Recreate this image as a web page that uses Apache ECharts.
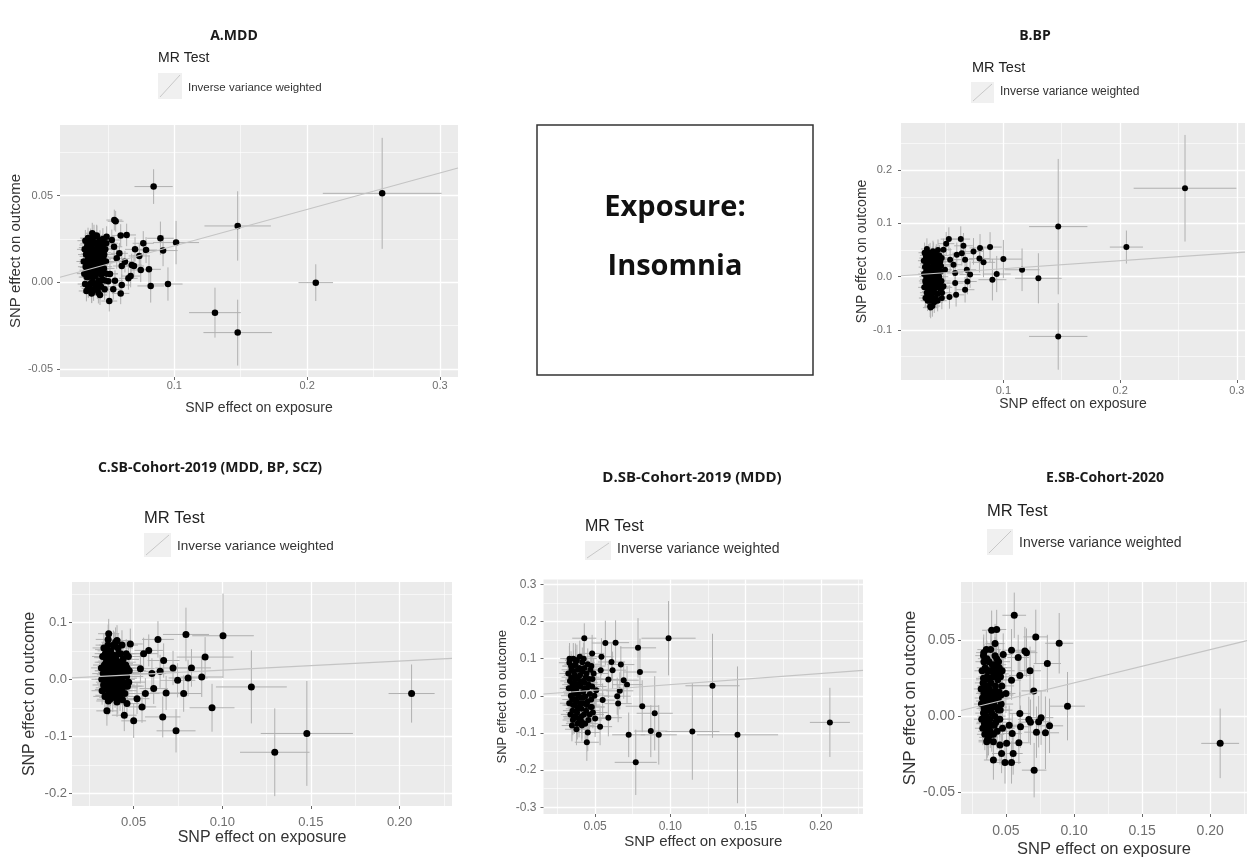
<!DOCTYPE html>
<html>
<head>
<meta charset="utf-8">
<script src="https://cdn.jsdelivr.net/npm/echarts@6/dist/echarts.min.js"></script>
<style>
  html, body { margin: 0; padding: 0; background: #fff; }
  #chart { width: 1249px; height: 860px; }
</style>
</head>
<body>
<div id="chart"></div>
<script>
// ---- data: each SNP is [beta exposure, beta outcome, se exposure, se outcome] ----
var panelTitles = ['A.MDD', 'B.BP', 'C.SB-Cohort-2019 (MDD, BP, SCZ)', 'D.SB-Cohort-2019 (MDD)', 'E.SB-Cohort-2020'];
var methodName = 'Inverse variance weighted';
var ivwSlopes = [0.21, 0.15, 0.16, 0.30, 0.22];

var mddSnps = [
  [0.0844, 0.0552, 0.0144, 0.0100], [0.2565, 0.0513, 0.0447, 0.0320], [0.1477, 0.0325, 0.0250, 0.0200],
  [0.0895, 0.0254, 0.0100, 0.0096], [0.1013, 0.0229, 0.0173, 0.0125], [0.0915, 0.0183, 0.0110, 0.0090],
  [0.2065, -0.0002, 0.0130, 0.0106], [0.1306, -0.0175, 0.0195, 0.0144], [0.1477, -0.0290, 0.0258, 0.0190],
  [0.0952, -0.0010, 0.0110, 0.0096], [0.0822, -0.0021, 0.0100, 0.0096], [0.0809, 0.0075, 0.0090, 0.0080],
  [0.0766, 0.0225, 0.0080, 0.0070], [0.0787, 0.0186, 0.0085, 0.0075], [0.0548, 0.0359, 0.0060, 0.0060],
  [0.0558, 0.0352, 0.0060, 0.0060], [0.0382, 0.0283, 0.0050, 0.0060], [0.0641, 0.0273, 0.0070, 0.0065],
  [0.0596, 0.0270, 0.0065, 0.0065], [0.0704, 0.0190, 0.0075, 0.0070], [0.0736, 0.0152, 0.0080, 0.0070],
  [0.0679, 0.0100, 0.0075, 0.0065], [0.0696, 0.0094, 0.0075, 0.0065], [0.0747, 0.0071, 0.0080, 0.0070],
  [0.0671, 0.0036, 0.0070, 0.0065], [0.0654, 0.0023, 0.0070, 0.0065], [0.0510, -0.0108, 0.0060, 0.0060],
  [0.0604, -0.0016, 0.0065, 0.0062], [0.0596, -0.0064, 0.0065, 0.0062], [0.0440, -0.0073, 0.0055, 0.0058],
  [0.0352, -0.0035, 0.0050, 0.0055], [0.0377, -0.0064, 0.0050, 0.0055], [0.0540, -0.0040, 0.0060, 0.0060],
  [0.0502, 0.0006, 0.0060, 0.0058], [0.0604, 0.0094, 0.0065, 0.0062], [0.0566, 0.0138, 0.0062, 0.0060],
  [0.0546, 0.0205, 0.0062, 0.0060], [0.0529, 0.0244, 0.0060, 0.0060], [0.0490, 0.0263, 0.0058, 0.0060],
  [0.0586, 0.0167, 0.0064, 0.0060], [0.0628, 0.0119, 0.0066, 0.0062], [0.0515, 0.0048, 0.0060, 0.0058],
  [0.0553, 0.0009, 0.0062, 0.0060],
  [0.0345, 0.0215, 0.0060, 0.0060], [0.0352, 0.0150, 0.0065, 0.0055], [0.0358, 0.0085, 0.0070, 0.0058],
  [0.0348, 0.0030, 0.0060, 0.0062], [0.0362, -0.0020, 0.0065, 0.0056], [0.0370, 0.0250, 0.0072, 0.0060],
  [0.0375, 0.0190, 0.0068, 0.0058], [0.0368, 0.0120, 0.0060, 0.0055], [0.0380, 0.0060, 0.0075, 0.0060],
  [0.0385, 0.0005, 0.0070, 0.0058], [0.0392, -0.0045, 0.0065, 0.0062], [0.0395, 0.0225, 0.0080, 0.0060],
  [0.0400, 0.0160, 0.0070, 0.0057], [0.0405, 0.0100, 0.0075, 0.0060], [0.0398, 0.0035, 0.0068, 0.0058],
  [0.0410, -0.0015, 0.0072, 0.0060], [0.0415, 0.0270, 0.0078, 0.0062], [0.0420, 0.0200, 0.0070, 0.0058],
  [0.0418, 0.0135, 0.0066, 0.0056], [0.0425, 0.0075, 0.0080, 0.0060], [0.0430, 0.0010, 0.0074, 0.0058],
  [0.0428, -0.0060, 0.0070, 0.0062], [0.0440, 0.0240, 0.0082, 0.0060], [0.0445, 0.0170, 0.0076, 0.0058],
  [0.0438, 0.0110, 0.0070, 0.0056], [0.0450, 0.0045, 0.0080, 0.0060], [0.0448, -0.0025, 0.0075, 0.0060],
  [0.0460, 0.0215, 0.0085, 0.0062], [0.0465, 0.0145, 0.0078, 0.0058], [0.0470, 0.0080, 0.0080, 0.0060],
  [0.0458, 0.0015, 0.0074, 0.0058], [0.0475, -0.0040, 0.0082, 0.0062], [0.0480, 0.0190, 0.0085, 0.0060],
  [0.0485, 0.0120, 0.0080, 0.0058], [0.0490, 0.0050, 0.0086, 0.0060], [0.0355, 0.0185, 0.0062, 0.0056],
  [0.0362, 0.0060, 0.0064, 0.0058], [0.0388, 0.0130, 0.0070, 0.0058], [0.0402, 0.0070, 0.0072, 0.0058],
  [0.0412, 0.0230, 0.0075, 0.0060], [0.0432, 0.0150, 0.0076, 0.0058], [0.0452, 0.0090, 0.0080, 0.0060],
  [0.0342, 0.0110, 0.0058, 0.0055], [0.0372, -0.0005, 0.0065, 0.0058], [0.0395, 0.0270, 0.0070, 0.0062],
  [0.0435, 0.0205, 0.0076, 0.0060], [0.0468, 0.0115, 0.0080, 0.0058], [0.0420, -0.0035, 0.0072, 0.0060],
  [0.0350, 0.0255, 0.0060, 0.0060], [0.0383, 0.0170, 0.0066, 0.0058],
  [0.0318, 0.0120, 0.0055, 0.0056], [0.0322, 0.0050, 0.0056, 0.0058], [0.0325, 0.0190, 0.0058, 0.0060],
  [0.0328, -0.0010, 0.0056, 0.0058], [0.0330, 0.0240, 0.0060, 0.0062], [0.0332, 0.0090, 0.0058, 0.0056],
  [0.0335, 0.0160, 0.0060, 0.0058], [0.0338, -0.0050, 0.0058, 0.0060], [0.0340, 0.0030, 0.0060, 0.0058],
  [0.0343, 0.0200, 0.0062, 0.0060], [0.0346, 0.0070, 0.0060, 0.0056], [0.0349, 0.0130, 0.0062, 0.0058],
  [0.0353, -0.0025, 0.0062, 0.0060], [0.0356, 0.0225, 0.0064, 0.0060], [0.0360, 0.0110, 0.0064, 0.0056],
  [0.0364, 0.0165, 0.0066, 0.0058], [0.0367, 0.0035, 0.0064, 0.0058], [0.0371, 0.0205, 0.0068, 0.0060],
  [0.0374, 0.0095, 0.0066, 0.0056], [0.0378, -0.0060, 0.0068, 0.0060], [0.0381, 0.0140, 0.0068, 0.0058],
  [0.0386, 0.0240, 0.0070, 0.0062], [0.0390, 0.0080, 0.0070, 0.0056], [0.0394, 0.0190, 0.0072, 0.0058],
  [0.0397, -0.0010, 0.0070, 0.0060], [0.0403, 0.0125, 0.0072, 0.0058], [0.0408, 0.0040, 0.0074, 0.0058],
  [0.0413, 0.0175, 0.0074, 0.0060], [0.0417, 0.0265, 0.0076, 0.0062], [0.0423, 0.0100, 0.0076, 0.0056],
  [0.0427, 0.0055, 0.0078, 0.0058], [0.0433, 0.0225, 0.0078, 0.0060], [0.0437, -0.0010, 0.0078, 0.0060],
  [0.0443, 0.0130, 0.0080, 0.0058], [0.0447, 0.0195, 0.0080, 0.0060], [0.0455, 0.0060, 0.0082, 0.0058],
  [0.0462, 0.0250, 0.0084, 0.0062], [0.0472, 0.0160, 0.0084, 0.0058], [0.0478, 0.0010, 0.0086, 0.0060],
  [0.0487, 0.0225, 0.0088, 0.0060]
];

var bpSnps = [
  [0.2556, 0.1660, 0.0440, 0.1000], [0.1470, 0.0940, 0.0250, 0.1270], [0.1470, -0.1120, 0.0250, 0.0625],
  [0.2054, 0.0556, 0.0142, 0.0310], [0.1300, -0.0030, 0.0200, 0.0470], [0.1160, 0.0130, 0.0150, 0.0400],
  [0.1000, 0.0330, 0.0160, 0.0360], [0.0943, 0.0050, 0.0120, 0.0340], [0.0906, -0.0056, 0.0120, 0.0390],
  [0.0886, 0.0556, 0.0100, 0.0280], [0.0800, 0.0540, 0.0090, 0.0260], [0.0744, 0.0475, 0.0090, 0.0250],
  [0.0795, 0.0340, 0.0090, 0.0260], [0.0830, 0.0270, 0.0100, 0.0280], [0.0635, 0.0706, 0.0080, 0.0240],
  [0.0533, 0.0706, 0.0070, 0.0220], [0.0487, 0.0506, 0.0070, 0.0210], [0.0510, 0.0620, 0.0070, 0.0220],
  [0.0658, 0.0580, 0.0080, 0.0240], [0.0644, 0.0440, 0.0080, 0.0230], [0.0672, 0.0320, 0.0080, 0.0230],
  [0.0687, 0.0130, 0.0080, 0.0240], [0.0715, 0.0040, 0.0090, 0.0250], [0.0692, -0.0090, 0.0080, 0.0240],
  [0.0672, -0.0244, 0.0080, 0.0240], [0.0595, -0.0340, 0.0070, 0.0220], [0.0538, -0.0380, 0.0070, 0.0220],
  [0.0473, -0.0400, 0.0060, 0.0210], [0.0587, -0.0120, 0.0070, 0.0220], [0.0587, 0.0070, 0.0070, 0.0220],
  [0.0573, 0.0225, 0.0070, 0.0220], [0.0544, 0.0320, 0.0070, 0.0220], [0.0601, 0.0410, 0.0070, 0.0230],
  [0.0500, 0.0130, 0.0060, 0.0210], [0.0487, -0.0180, 0.0060, 0.0210], [0.0373, -0.0556, 0.0050, 0.0200],
  [0.0345, 0.0520, 0.0050, 0.0200],
  [0.0335, 0.0400, 0.0050, 0.0180], [0.0340, 0.0250, 0.0055, 0.0170], [0.0338, 0.0100, 0.0052, 0.0190],
  [0.0342, -0.0050, 0.0056, 0.0180], [0.0345, -0.0200, 0.0054, 0.0175], [0.0350, -0.0350, 0.0058, 0.0185],
  [0.0355, 0.0350, 0.0060, 0.0180], [0.0360, 0.0180, 0.0058, 0.0170], [0.0358, 0.0030, 0.0056, 0.0190],
  [0.0362, -0.0120, 0.0060, 0.0180], [0.0365, -0.0280, 0.0062, 0.0185], [0.0368, -0.0450, 0.0060, 0.0190],
  [0.0372, 0.0450, 0.0064, 0.0185], [0.0375, 0.0280, 0.0062, 0.0175], [0.0380, 0.0120, 0.0066, 0.0180],
  [0.0378, -0.0020, 0.0060, 0.0190], [0.0385, -0.0180, 0.0064, 0.0180], [0.0388, -0.0380, 0.0066, 0.0195],
  [0.0392, 0.0380, 0.0068, 0.0185], [0.0395, 0.0200, 0.0066, 0.0175], [0.0400, 0.0050, 0.0070, 0.0180],
  [0.0398, -0.0100, 0.0066, 0.0190], [0.0405, -0.0250, 0.0070, 0.0185], [0.0408, -0.0480, 0.0068, 0.0200],
  [0.0412, 0.0300, 0.0070, 0.0180], [0.0415, 0.0140, 0.0072, 0.0175], [0.0420, -0.0040, 0.0070, 0.0185],
  [0.0418, -0.0200, 0.0068, 0.0190], [0.0425, 0.0420, 0.0074, 0.0190], [0.0428, 0.0220, 0.0072, 0.0180],
  [0.0432, 0.0080, 0.0074, 0.0175], [0.0435, -0.0150, 0.0072, 0.0185], [0.0438, -0.0320, 0.0074, 0.0195],
  [0.0442, 0.0350, 0.0076, 0.0190], [0.0445, 0.0160, 0.0074, 0.0180], [0.0450, 0.0000, 0.0078, 0.0185],
  [0.0455, -0.0220, 0.0076, 0.0190], [0.0460, 0.0280, 0.0078, 0.0185], [0.0465, 0.0100, 0.0080, 0.0180],
  [0.0470, -0.0080, 0.0078, 0.0190], [0.0475, -0.0300, 0.0080, 0.0195], [0.0348, 0.0320, 0.0056, 0.0175],
  [0.0352, 0.0150, 0.0058, 0.0180], [0.0370, 0.0050, 0.0062, 0.0185], [0.0382, -0.0280, 0.0064, 0.0190],
  [0.0402, 0.0450, 0.0068, 0.0195], [0.0422, -0.0400, 0.0070, 0.0195], [0.0440, 0.0500, 0.0074, 0.0200],
  [0.0335, -0.0120, 0.0052, 0.0180], [0.0392, -0.0550, 0.0066, 0.0200],
  [0.0318, 0.0300, 0.0050, 0.0180], [0.0320, 0.0050, 0.0050, 0.0175], [0.0322, -0.0200, 0.0052, 0.0185],
  [0.0325, 0.0450, 0.0052, 0.0190], [0.0328, 0.0180, 0.0054, 0.0180], [0.0330, -0.0080, 0.0054, 0.0175],
  [0.0332, -0.0400, 0.0056, 0.0190], [0.0336, 0.0350, 0.0056, 0.0185], [0.0339, 0.0000, 0.0058, 0.0180],
  [0.0343, -0.0300, 0.0058, 0.0190], [0.0347, 0.0220, 0.0060, 0.0180], [0.0351, -0.0450, 0.0060, 0.0195],
  [0.0354, 0.0080, 0.0060, 0.0175], [0.0357, -0.0180, 0.0062, 0.0185], [0.0361, 0.0420, 0.0062, 0.0190],
  [0.0364, -0.0050, 0.0064, 0.0180], [0.0367, 0.0300, 0.0064, 0.0185], [0.0371, -0.0350, 0.0066, 0.0190],
  [0.0374, 0.0150, 0.0066, 0.0180], [0.0377, -0.0580, 0.0066, 0.0200], [0.0381, 0.0350, 0.0068, 0.0185],
  [0.0384, 0.0000, 0.0068, 0.0180], [0.0387, -0.0220, 0.0070, 0.0190], [0.0391, 0.0100, 0.0070, 0.0180],
  [0.0394, -0.0400, 0.0070, 0.0195], [0.0397, 0.0480, 0.0072, 0.0195], [0.0403, -0.0150, 0.0072, 0.0185],
  [0.0407, 0.0220, 0.0074, 0.0180], [0.0411, -0.0300, 0.0074, 0.0190], [0.0416, 0.0050, 0.0076, 0.0180],
  [0.0421, 0.0380, 0.0076, 0.0190], [0.0427, -0.0080, 0.0078, 0.0185], [0.0433, 0.0280, 0.0078, 0.0185],
  [0.0437, -0.0450, 0.0078, 0.0200], [0.0444, 0.0080, 0.0080, 0.0180], [0.0452, 0.0400, 0.0080, 0.0195],
  [0.0458, -0.0120, 0.0082, 0.0185], [0.0466, 0.0200, 0.0082, 0.0185], [0.0472, 0.0350, 0.0084, 0.0190],
  [0.0478, -0.0200, 0.0084, 0.0190]
];

var cohort19AllSnps = [
  [0.2068, -0.0250, 0.0130, 0.0510], [0.1477, -0.0950, 0.0260, 0.0920], [0.1296, -0.1280, 0.0196, 0.0770],
  [0.1164, -0.0134, 0.0200, 0.0640], [0.1004, 0.0764, 0.0174, 0.0740], [0.0795, 0.0787, 0.0130, 0.0470],
  [0.0942, -0.0500, 0.0127, 0.0420], [0.0903, 0.0390, 0.0160, 0.0350], [0.0884, 0.0040, 0.0120, 0.0350],
  [0.0826, 0.0200, 0.0110, 0.0330], [0.0807, 0.0023, 0.0110, 0.0320], [0.0782, -0.0250, 0.0100, 0.0320],
  [0.0739, -0.0904, 0.0110, 0.0380], [0.0664, -0.0660, 0.0100, 0.0360], [0.0722, 0.0198, 0.0100, 0.0300],
  [0.0748, -0.0017, 0.0100, 0.0300], [0.0683, -0.0240, 0.0090, 0.0300], [0.0669, 0.0330, 0.0090, 0.0300],
  [0.0637, 0.0700, 0.0090, 0.0320], [0.0649, 0.0140, 0.0090, 0.0290], [0.0585, 0.0507, 0.0080, 0.0280],
  [0.0556, 0.0450, 0.0080, 0.0280], [0.0603, 0.0100, 0.0080, 0.0270], [0.0613, -0.0163, 0.0080, 0.0270],
  [0.0547, -0.0484, 0.0080, 0.0280], [0.0500, -0.0729, 0.0070, 0.0300], [0.0447, -0.0630, 0.0070, 0.0280],
  [0.0349, -0.0554, 0.0060, 0.0260], [0.0359, 0.0800, 0.0060, 0.0260], [0.0406, 0.0680, 0.0070, 0.0270],
  [0.0481, 0.0620, 0.0070, 0.0270], [0.0538, 0.0187, 0.0080, 0.0260], [0.0566, -0.0250, 0.0080, 0.0270],
  [0.0519, -0.0340, 0.0070, 0.0270], [0.0462, -0.0426, 0.0070, 0.0260], [0.0406, -0.0400, 0.0070, 0.0260],
  [0.0340, 0.0450, 0.0060, 0.0240], [0.0345, 0.0300, 0.0065, 0.0230], [0.0342, 0.0150, 0.0062, 0.0250],
  [0.0348, 0.0000, 0.0066, 0.0240], [0.0350, -0.0150, 0.0064, 0.0230], [0.0352, -0.0280, 0.0068, 0.0250],
  [0.0355, 0.0600, 0.0070, 0.0250], [0.0358, 0.0380, 0.0068, 0.0235], [0.0360, 0.0220, 0.0066, 0.0245],
  [0.0362, 0.0080, 0.0070, 0.0240], [0.0365, -0.0080, 0.0072, 0.0235], [0.0368, -0.0220, 0.0070, 0.0250],
  [0.0370, 0.0500, 0.0074, 0.0245], [0.0372, 0.0320, 0.0072, 0.0235], [0.0375, 0.0120, 0.0076, 0.0240],
  [0.0378, -0.0030, 0.0070, 0.0250], [0.0380, -0.0180, 0.0074, 0.0240], [0.0382, -0.0320, 0.0076, 0.0255],
  [0.0385, 0.0420, 0.0078, 0.0250], [0.0388, 0.0250, 0.0076, 0.0240], [0.0390, 0.0050, 0.0080, 0.0245],
  [0.0392, -0.0120, 0.0076, 0.0250], [0.0395, -0.0260, 0.0078, 0.0240], [0.0398, 0.0650, 0.0080, 0.0260],
  [0.0400, 0.0350, 0.0080, 0.0245], [0.0403, 0.0180, 0.0082, 0.0240], [0.0406, -0.0020, 0.0080, 0.0250],
  [0.0409, -0.0200, 0.0082, 0.0245], [0.0412, 0.0550, 0.0084, 0.0255], [0.0415, 0.0280, 0.0082, 0.0240],
  [0.0418, 0.0100, 0.0084, 0.0245], [0.0420, -0.0100, 0.0086, 0.0250], [0.0423, -0.0300, 0.0084, 0.0255],
  [0.0426, 0.0450, 0.0086, 0.0250], [0.0429, 0.0200, 0.0088, 0.0240], [0.0432, 0.0020, 0.0086, 0.0245],
  [0.0435, -0.0150, 0.0088, 0.0250], [0.0440, 0.0350, 0.0090, 0.0255], [0.0443, 0.0120, 0.0088, 0.0245],
  [0.0446, -0.0060, 0.0090, 0.0250], [0.0450, -0.0250, 0.0092, 0.0255], [0.0455, 0.0250, 0.0090, 0.0250],
  [0.0460, 0.0050, 0.0094, 0.0245], [0.0465, -0.0120, 0.0092, 0.0250], [0.0470, 0.0400, 0.0096, 0.0260],
  [0.0475, 0.0150, 0.0094, 0.0250], [0.0346, 0.0520, 0.0064, 0.0245], [0.0357, -0.0380, 0.0068, 0.0250],
  [0.0393, 0.0580, 0.0078, 0.0255], [0.0437, -0.0360, 0.0088, 0.0255],
  [0.0318, 0.0200, 0.0058, 0.0235], [0.0320, 0.0000, 0.0058, 0.0240], [0.0322, -0.0200, 0.0060, 0.0245],
  [0.0325, 0.0400, 0.0060, 0.0240], [0.0328, 0.0100, 0.0062, 0.0235], [0.0330, -0.0100, 0.0062, 0.0245],
  [0.0332, 0.0550, 0.0064, 0.0250], [0.0335, 0.0250, 0.0064, 0.0240], [0.0338, -0.0300, 0.0066, 0.0250],
  [0.0342, 0.0050, 0.0066, 0.0240], [0.0345, 0.0380, 0.0068, 0.0245], [0.0349, -0.0180, 0.0068, 0.0245],
  [0.0352, 0.0150, 0.0070, 0.0240], [0.0356, 0.0700, 0.0070, 0.0260], [0.0359, -0.0050, 0.0072, 0.0240],
  [0.0363, 0.0300, 0.0072, 0.0245], [0.0366, -0.0350, 0.0074, 0.0255], [0.0369, 0.0180, 0.0074, 0.0240],
  [0.0373, 0.0450, 0.0076, 0.0250], [0.0376, 0.0000, 0.0076, 0.0240], [0.0379, -0.0120, 0.0078, 0.0245],
  [0.0383, 0.0280, 0.0078, 0.0245], [0.0386, 0.0600, 0.0080, 0.0255], [0.0389, -0.0220, 0.0080, 0.0250],
  [0.0393, 0.0120, 0.0082, 0.0240], [0.0396, 0.0400, 0.0082, 0.0250], [0.0401, -0.0080, 0.0084, 0.0245],
  [0.0405, 0.0250, 0.0084, 0.0245], [0.0410, -0.0350, 0.0086, 0.0255], [0.0414, 0.0450, 0.0086, 0.0250],
  [0.0419, 0.0000, 0.0088, 0.0245], [0.0424, 0.0300, 0.0088, 0.0250], [0.0428, -0.0200, 0.0090, 0.0250],
  [0.0434, 0.0600, 0.0090, 0.0260], [0.0438, 0.0100, 0.0092, 0.0245], [0.0444, 0.0250, 0.0092, 0.0250],
  [0.0451, -0.0120, 0.0094, 0.0250], [0.0458, 0.0450, 0.0094, 0.0255], [0.0463, 0.0200, 0.0096, 0.0250],
  [0.0472, -0.0050, 0.0096, 0.0250]
];

var cohort19MddSnps = [
  [0.2060, -0.0715, 0.0133, 0.0930], [0.1446, -0.1050, 0.0270, 0.1840], [0.1280, 0.0270, 0.0180, 0.1400],
  [0.1146, -0.0960, 0.0180, 0.1300], [0.0988, 0.1550, 0.0180, 0.1000], [0.0923, -0.1050, 0.0120, 0.0800],
  [0.0896, -0.0470, 0.0120, 0.1000], [0.0870, -0.0950, 0.0110, 0.0700], [0.0770, -0.1790, 0.0140, 0.0880],
  [0.0723, -0.1050, 0.0110, 0.0600], [0.0813, -0.0280, 0.0110, 0.0700], [0.0798, 0.0640, 0.0110, 0.0900],
  [0.0785, 0.1290, 0.0120, 0.0800], [0.0636, 0.1430, 0.0090, 0.0600], [0.0568, 0.1420, 0.0090, 0.0600],
  [0.0428, 0.1550, 0.0080, 0.0400], [0.0445, -0.1250, 0.0080, 0.0500], [0.0451, -0.0990, 0.0080, 0.0500],
  [0.0533, -0.0830, 0.0080, 0.0500], [0.0500, -0.0610, 0.0080, 0.0500], [0.0588, -0.0590, 0.0090, 0.0500],
  [0.0653, -0.0210, 0.0090, 0.0500], [0.0712, 0.0300, 0.0100, 0.0500], [0.0690, 0.0420, 0.0100, 0.0500],
  [0.0671, 0.0840, 0.0090, 0.0500], [0.0616, 0.0690, 0.0090, 0.0500], [0.0588, 0.0440, 0.0090, 0.0500],
  [0.0664, 0.0134, 0.0090, 0.0500], [0.0647, -0.0010, 0.0090, 0.0500], [0.0609, 0.0910, 0.0090, 0.0500],
  [0.0542, 0.1050, 0.0080, 0.0500], [0.0480, 0.1140, 0.0080, 0.0500], [0.0537, 0.0690, 0.0080, 0.0450],
  [0.0507, 0.0150, 0.0080, 0.0450], [0.0550, -0.0116, 0.0080, 0.0450], [0.0478, -0.0300, 0.0080, 0.0450],
  [0.0412, -0.0700, 0.0070, 0.0450], [0.0358, -0.0560, 0.0070, 0.0450], [0.0329, 0.0890, 0.0070, 0.0450],
  [0.0369, 0.0960, 0.0070, 0.0450],
  [0.0340, 0.0800, 0.0060, 0.0400], [0.0342, 0.0500, 0.0065, 0.0380], [0.0345, 0.0200, 0.0062, 0.0420],
  [0.0348, -0.0100, 0.0066, 0.0400], [0.0350, -0.0400, 0.0064, 0.0390], [0.0352, -0.0650, 0.0068, 0.0410],
  [0.0355, 0.1000, 0.0070, 0.0420], [0.0358, 0.0650, 0.0068, 0.0395], [0.0360, 0.0350, 0.0066, 0.0405],
  [0.0362, 0.0050, 0.0070, 0.0400], [0.0365, -0.0250, 0.0072, 0.0390], [0.0368, -0.0550, 0.0070, 0.0415],
  [0.0370, 0.0850, 0.0074, 0.0410], [0.0372, 0.0450, 0.0072, 0.0395], [0.0375, 0.0150, 0.0076, 0.0400],
  [0.0378, -0.0150, 0.0070, 0.0415], [0.0380, -0.0450, 0.0074, 0.0400], [0.0382, -0.0750, 0.0076, 0.0425],
  [0.0385, 0.0700, 0.0078, 0.0415], [0.0388, 0.0300, 0.0076, 0.0400], [0.0390, 0.0000, 0.0080, 0.0410],
  [0.0392, -0.0300, 0.0076, 0.0415], [0.0395, -0.0600, 0.0078, 0.0400], [0.0398, 0.1050, 0.0080, 0.0435],
  [0.0400, 0.0550, 0.0080, 0.0410], [0.0403, 0.0250, 0.0082, 0.0400], [0.0406, -0.0050, 0.0080, 0.0415],
  [0.0409, -0.0350, 0.0082, 0.0410], [0.0412, -0.0800, 0.0084, 0.0425], [0.0415, 0.0900, 0.0082, 0.0400],
  [0.0418, 0.0400, 0.0084, 0.0410], [0.0420, 0.0100, 0.0086, 0.0415], [0.0423, -0.0200, 0.0084, 0.0425],
  [0.0426, -0.0500, 0.0086, 0.0415], [0.0429, 0.0750, 0.0088, 0.0400], [0.0432, 0.0350, 0.0086, 0.0410],
  [0.0435, -0.0020, 0.0088, 0.0415], [0.0440, -0.0400, 0.0090, 0.0425], [0.0443, 0.0600, 0.0088, 0.0410],
  [0.0446, 0.0200, 0.0090, 0.0415], [0.0450, -0.0150, 0.0092, 0.0425], [0.0455, -0.0650, 0.0090, 0.0415],
  [0.0460, 0.0450, 0.0094, 0.0410], [0.0465, 0.0050, 0.0092, 0.0415], [0.0470, -0.0300, 0.0096, 0.0435],
  [0.0475, 0.0800, 0.0094, 0.0425], [0.0480, 0.0250, 0.0096, 0.0415], [0.0485, -0.0450, 0.0098, 0.0425],
  [0.0490, 0.0600, 0.0098, 0.0420], [0.0495, 0.0000, 0.0100, 0.0420],
  [0.0322, 0.0600, 0.0060, 0.0400], [0.0325, 0.0200, 0.0060, 0.0395], [0.0328, -0.0200, 0.0062, 0.0410],
  [0.0330, 0.1000, 0.0062, 0.0420], [0.0333, 0.0400, 0.0064, 0.0400], [0.0336, -0.0500, 0.0064, 0.0415],
  [0.0339, 0.0000, 0.0066, 0.0400], [0.0343, 0.0700, 0.0066, 0.0410], [0.0346, -0.0800, 0.0068, 0.0425],
  [0.0349, 0.0300, 0.0068, 0.0400], [0.0353, -0.0250, 0.0070, 0.0410], [0.0356, 0.0800, 0.0070, 0.0415],
  [0.0359, 0.0100, 0.0072, 0.0400], [0.0363, -0.0600, 0.0072, 0.0420], [0.0366, 0.0550, 0.0074, 0.0410],
  [0.0369, -0.0100, 0.0074, 0.0405], [0.0373, 0.0250, 0.0076, 0.0400], [0.0376, -0.0900, 0.0076, 0.0430],
  [0.0379, 0.0950, 0.0078, 0.0425], [0.0383, -0.0350, 0.0078, 0.0410], [0.0386, 0.0450, 0.0080, 0.0405],
  [0.0389, 0.0050, 0.0080, 0.0400], [0.0393, -0.0700, 0.0082, 0.0420], [0.0396, 0.0750, 0.0082, 0.0415],
  [0.0401, -0.0200, 0.0084, 0.0410], [0.0405, 0.0350, 0.0084, 0.0405], [0.0410, -0.0550, 0.0086, 0.0420],
  [0.0414, 0.0650, 0.0086, 0.0415], [0.0419, -0.0050, 0.0088, 0.0405], [0.0424, 0.1000, 0.0088, 0.0430],
  [0.0428, 0.0200, 0.0090, 0.0405], [0.0434, -0.0750, 0.0090, 0.0425], [0.0438, 0.0500, 0.0092, 0.0415],
  [0.0444, -0.0250, 0.0092, 0.0410], [0.0451, 0.0850, 0.0094, 0.0425], [0.0457, 0.0300, 0.0094, 0.0410],
  [0.0463, -0.0500, 0.0096, 0.0420], [0.0468, 0.0700, 0.0096, 0.0420], [0.0474, -0.0100, 0.0098, 0.0415],
  [0.0482, 0.0450, 0.0098, 0.0420]
];

var cohort20Snps = [
  [0.2073, -0.0180, 0.0139, 0.0230], [0.0952, 0.0066, 0.0128, 0.0226], [0.0891, 0.0482, 0.0103, 0.0200],
  [0.0804, 0.0348, 0.0100, 0.0190], [0.0719, 0.0524, 0.0090, 0.0180], [0.0561, 0.0667, 0.0087, 0.0150],
  [0.0820, -0.0064, 0.0100, 0.0180], [0.0790, -0.0110, 0.0100, 0.0240], [0.0758, -0.0010, 0.0090, 0.0180],
  [0.0740, -0.0037, 0.0090, 0.0170], [0.0724, -0.0106, 0.0090, 0.0170], [0.0704, 0.0167, 0.0090, 0.0170],
  [0.0677, 0.0300, 0.0080, 0.0160], [0.0707, -0.0357, 0.0090, 0.0180], [0.0651, 0.0420, 0.0080, 0.0160],
  [0.0639, 0.0430, 0.0080, 0.0160], [0.0602, 0.0269, 0.0080, 0.0150], [0.0590, 0.0388, 0.0080, 0.0150],
  [0.0541, 0.0436, 0.0070, 0.0140], [0.0480, 0.0407, 0.0070, 0.0140], [0.0432, 0.0380, 0.0070, 0.0130],
  [0.0420, 0.0480, 0.0070, 0.0130], [0.0395, 0.0568, 0.0070, 0.0130], [0.0432, 0.0573, 0.0070, 0.0130],
  [0.0335, 0.0400, 0.0060, 0.0120], [0.0408, -0.0290, 0.0070, 0.0130], [0.0493, -0.0306, 0.0070, 0.0140],
  [0.0541, -0.0306, 0.0070, 0.0140], [0.0553, -0.0247, 0.0070, 0.0140], [0.0505, -0.0180, 0.0070, 0.0130],
  [0.0468, -0.0247, 0.0070, 0.0130], [0.0456, -0.0190, 0.0070, 0.0130], [0.0595, -0.0176, 0.0080, 0.0140],
  [0.0546, -0.0115, 0.0070, 0.0130], [0.0607, -0.0070, 0.0080, 0.0140], [0.0602, 0.0018, 0.0080, 0.0140],
  [0.0524, -0.0060, 0.0070, 0.0130], [0.0541, 0.0238, 0.0070, 0.0130], [0.0500, 0.0150, 0.0070, 0.0130],
  [0.0359, -0.0170, 0.0060, 0.0120], [0.0408, -0.0170, 0.0060, 0.0120], [0.0668, -0.0022, 0.0080, 0.0150],
  [0.0680, -0.0040, 0.0080, 0.0150],
  [0.0335, 0.0250, 0.0055, 0.0110], [0.0338, 0.0150, 0.0058, 0.0105], [0.0340, 0.0050, 0.0056, 0.0115],
  [0.0342, -0.0050, 0.0060, 0.0110], [0.0345, -0.0120, 0.0058, 0.0105], [0.0348, 0.0320, 0.0062, 0.0115],
  [0.0350, 0.0200, 0.0060, 0.0110], [0.0352, 0.0100, 0.0062, 0.0105], [0.0355, 0.0000, 0.0064, 0.0115],
  [0.0358, -0.0080, 0.0062, 0.0110], [0.0360, 0.0380, 0.0066, 0.0120], [0.0362, 0.0260, 0.0064, 0.0110],
  [0.0365, 0.0140, 0.0066, 0.0105], [0.0368, 0.0040, 0.0068, 0.0115], [0.0370, -0.0040, 0.0066, 0.0110],
  [0.0372, -0.0140, 0.0068, 0.0120], [0.0375, 0.0300, 0.0070, 0.0115], [0.0378, 0.0180, 0.0068, 0.0110],
  [0.0380, 0.0080, 0.0070, 0.0105], [0.0382, -0.0020, 0.0072, 0.0115], [0.0385, -0.0100, 0.0070, 0.0110],
  [0.0388, 0.0440, 0.0074, 0.0125], [0.0390, 0.0220, 0.0072, 0.0115], [0.0392, 0.0120, 0.0074, 0.0110],
  [0.0395, 0.0020, 0.0072, 0.0115], [0.0398, -0.0060, 0.0074, 0.0110], [0.0400, 0.0340, 0.0076, 0.0120],
  [0.0403, 0.0160, 0.0074, 0.0110], [0.0406, 0.0060, 0.0076, 0.0115], [0.0409, -0.0120, 0.0078, 0.0120],
  [0.0412, 0.0280, 0.0076, 0.0115], [0.0415, 0.0100, 0.0078, 0.0110], [0.0418, 0.0000, 0.0080, 0.0115],
  [0.0420, 0.0400, 0.0078, 0.0125], [0.0423, 0.0200, 0.0080, 0.0115], [0.0426, -0.0040, 0.0082, 0.0120],
  [0.0429, 0.0320, 0.0080, 0.0120], [0.0432, 0.0120, 0.0082, 0.0115], [0.0435, -0.0100, 0.0084, 0.0120],
  [0.0440, 0.0240, 0.0084, 0.0115], [0.0443, 0.0040, 0.0086, 0.0120], [0.0446, 0.0360, 0.0084, 0.0125],
  [0.0450, 0.0160, 0.0086, 0.0115], [0.0455, -0.0020, 0.0088, 0.0120], [0.0460, 0.0260, 0.0086, 0.0120],
  [0.0465, 0.0080, 0.0088, 0.0115], [0.0470, 0.0200, 0.0090, 0.0120], [0.0475, -0.0080, 0.0090, 0.0125],
  [0.0337, 0.0420, 0.0056, 0.0120], [0.0363, -0.0160, 0.0064, 0.0115],
  [0.0318, 0.0180, 0.0054, 0.0110], [0.0320, 0.0080, 0.0054, 0.0108], [0.0322, -0.0020, 0.0056, 0.0112],
  [0.0325, 0.0300, 0.0056, 0.0115], [0.0328, 0.0120, 0.0058, 0.0110], [0.0330, -0.0080, 0.0058, 0.0112],
  [0.0332, 0.0220, 0.0060, 0.0110], [0.0335, 0.0020, 0.0060, 0.0108], [0.0338, 0.0360, 0.0062, 0.0118],
  [0.0342, 0.0100, 0.0062, 0.0110], [0.0345, 0.0240, 0.0064, 0.0112], [0.0349, -0.0040, 0.0064, 0.0110],
  [0.0352, 0.0160, 0.0066, 0.0110], [0.0356, 0.0440, 0.0066, 0.0122], [0.0359, 0.0060, 0.0068, 0.0108],
  [0.0363, 0.0300, 0.0068, 0.0115], [0.0366, -0.0100, 0.0070, 0.0112], [0.0369, 0.0200, 0.0070, 0.0110],
  [0.0373, 0.0100, 0.0072, 0.0110], [0.0376, 0.0360, 0.0072, 0.0118], [0.0379, -0.0060, 0.0074, 0.0110],
  [0.0383, 0.0240, 0.0074, 0.0112], [0.0386, 0.0040, 0.0076, 0.0110], [0.0389, 0.0160, 0.0076, 0.0110],
  [0.0393, 0.0300, 0.0078, 0.0115], [0.0396, -0.0120, 0.0078, 0.0115], [0.0401, 0.0080, 0.0080, 0.0110],
  [0.0405, 0.0260, 0.0080, 0.0115], [0.0410, 0.0140, 0.0082, 0.0110], [0.0414, -0.0060, 0.0082, 0.0112],
  [0.0419, 0.0340, 0.0084, 0.0118], [0.0424, 0.0060, 0.0084, 0.0110], [0.0428, 0.0160, 0.0086, 0.0112],
  [0.0434, 0.0280, 0.0086, 0.0115], [0.0438, -0.0020, 0.0088, 0.0112], [0.0444, 0.0120, 0.0088, 0.0110],
  [0.0451, 0.0320, 0.0090, 0.0118], [0.0458, 0.0040, 0.0090, 0.0112], [0.0463, 0.0140, 0.0092, 0.0112],
  [0.0472, 0.0300, 0.0092, 0.0118]
];

// axis extents and tick positions
var xRanges = [[0.0139, 0.3136], [0.0123, 0.3070], [0.0152, 0.2296], [0.0157, 0.2280], [0.0170, 0.2270]];
var yRanges = [[-0.0546, 0.0907], [-0.1938, 0.2884], [-0.2223, 0.1707], [-0.3180, 0.3129], [-0.0647, 0.0887]];
var xTicks = [[0.1, 0.2, 0.3], [0.1, 0.2, 0.3], [0.05, 0.10, 0.15, 0.20], [0.05, 0.10, 0.15, 0.20], [0.05, 0.10, 0.15, 0.20]];
var xMinorTicks = [[0.05, 0.15, 0.25], [0.05, 0.15, 0.25], [0.025, 0.075, 0.125, 0.175, 0.225], [0.025, 0.075, 0.125, 0.175, 0.225], [0.025, 0.075, 0.125, 0.175, 0.225]];
var yTicks = [[-0.05, 0, 0.05], [-0.1, 0, 0.1, 0.2], [-0.2, -0.1, 0, 0.1], [-0.3, -0.2, -0.1, 0, 0.1, 0.2, 0.3], [-0.05, 0, 0.05]];
var yMinorTicks = [[-0.025, 0.025, 0.075], [-0.15, -0.05, 0.05, 0.15, 0.25], [-0.15, -0.05, 0.05, 0.15], [-0.25, -0.15, -0.05, 0.05, 0.15, 0.25], [-0.025, 0.025, 0.075]];
var xDigits = [1, 1, 2, 2, 2];
var yDigits = [2, 1, 1, 1, 2];

// ---- layout (pixel positions / font sizes per panel) ----
var layout = [
  { grid: [60, 125, 398, 252], title: [229, 24], tick: 11, xName: 14, yName: 15, xGap: 24, yGap: 37, xMargin: 3, yMargin: 7, dot: 6.5,
    legend: { x: 158, mr: 60, mrSize: 14, key: [158, 73, 24, 26], lab: 89, labSize: 11.5 } },
  { grid: [901, 123, 344, 257], title: [1030, 24], tick: 11, xName: 14, yName: 14, xGap: 15, yGap: 31, xMargin: 5, yMargin: 9, dot: 6,
    legend: { x: 972, mr: 69, mrSize: 14.5, key: [971, 82, 23, 21], lab: 93, labSize: 12 } },
  { grid: [72, 582, 380, 224], title: [205, 456], tick: 13, xName: 16, yName: 16, xGap: 24, yGap: 34, xMargin: 10, yMargin: 5, dot: 7,
    legend: { x: 144, mr: 520, mrSize: 16.5, key: [144, 533, 27, 24], lab: 547, labSize: 13.5 } },
  { grid: [543.5, 579.5, 319.5, 234.5], title: [687, 465], tick: 12, xName: 15, yName: 13, xGap: 18, yGap: 35, xMargin: 7, yMargin: 7, dot: 6,
    legend: { x: 585, mr: 528, mrSize: 16, key: [585, 541, 26, 19], lab: 551, labSize: 14 } },
  { grid: [961, 582, 286, 232], title: [1100, 466], tick: 14, xName: 16.5, yName: 17, xGap: 27, yGap: 42, xMargin: 10, yMargin: 6, dot: 7,
    legend: { x: 987, mr: 513, mrSize: 16.5, key: [987, 529, 26, 26], lab: 545, labSize: 14 } }
];

var allSnps = [mddSnps, bpSnps, cohort19AllSnps, cohort19MddSnps, cohort20Snps];
var FONT = '"Liberation Sans", Arial, sans-serif';
var BAR = '#b0b0b0';

function errorBars(params, api) {
  var x = api.value(0), y = api.value(1), sx = api.value(2), sy = api.value(3);
  var h1 = api.coord([x - sx, y]), h2 = api.coord([x + sx, y]);
  var v1 = api.coord([x, y - sy]), v2 = api.coord([x, y + sy]);
  var st = { stroke: BAR, lineWidth: 1 };
  return {
    type: 'group',
    children: [
      { type: 'line', shape: { x1: h1[0], y1: h1[1], x2: h2[0], y2: h2[1] }, style: st },
      { type: 'line', shape: { x1: v1[0], y1: v1[1], x2: v2[0], y2: v2[1] }, style: st }
    ]
  };
}

var grids = [], xAxes = [], yAxes = [], series = [], titles = [], graphics = [];

layout.forEach(function (L, i) {
  grids.push({ left: L.grid[0], top: L.grid[1], width: L.grid[2], height: L.grid[3],
    show: true, backgroundColor: '#ebebeb', borderWidth: 0 });

  var xd = xDigits[i], yd = yDigits[i];
  xAxes.push({
    type: 'value', gridIndex: i, min: xRanges[i][0], max: xRanges[i][1],
    name: 'SNP effect on exposure', nameLocation: 'middle', nameGap: L.xGap,
    nameTextStyle: { fontFamily: FONT, fontSize: L.xName, color: '#333' },
    axisLine: { show: false, onZero: false },
    axisTick: { show: true, length: 3, lineStyle: { color: '#666' }, customValues: xTicks[i] },
    axisLabel: { customValues: xTicks[i], margin: L.xMargin, fontFamily: FONT, fontSize: L.tick, color: '#6e6e6e',
      formatter: function (v) { return (+v).toFixed(xd); } },
    splitLine: { show: true, lineStyle: { color: '#ffffff', width: 1.3 } }
  });
  yAxes.push({
    type: 'value', gridIndex: i, min: yRanges[i][0], max: yRanges[i][1],
    name: 'SNP effect on outcome', nameLocation: 'middle', nameGap: L.yGap,
    nameTextStyle: { fontFamily: FONT, fontSize: L.yName, color: '#333' },
    axisLine: { show: false, onZero: false },
    axisTick: { show: true, length: 3, lineStyle: { color: '#666' }, customValues: yTicks[i] },
    axisLabel: { customValues: yTicks[i], margin: L.yMargin, fontFamily: FONT, fontSize: L.tick, color: '#6e6e6e',
      formatter: function (v) { return (+v).toFixed(yd); } },
    splitLine: { show: true, lineStyle: { color: '#ffffff', width: 1.3 } }
  });

  // error bars, points, IVW line
  series.push({
    type: 'custom', xAxisIndex: i, yAxisIndex: i, renderItem: errorBars, silent: true,
    encode: { x: 0, y: 1 }, data: allSnps[i], z: 2
  });
  series.push({
    type: 'scatter', xAxisIndex: i, yAxisIndex: i, symbolSize: L.dot,
    itemStyle: { color: '#000', opacity: 1 }, data: allSnps[i].map(function (d) { return [d[0], d[1]]; }), z: 3
  });
  var b = ivwSlopes[i], x0 = xRanges[i][0], x1 = xRanges[i][1];
  series.push({
    type: 'line', name: methodName, xAxisIndex: i, yAxisIndex: i, symbol: 'none', silent: true,
    lineStyle: { color: '#c4c4c4', width: 1.1 }, data: [[x0, b * x0], [x1, b * x1]], z: 4
  });

  titles.push({ text: panelTitles[i], left: L.title[0], top: L.title[1], textAlign: 'center',
    textStyle: { fontFamily: '"Open Sans", sans-serif', fontWeight: 'bold', fontSize: i === 3 ? 15 : 14, color: '#1a1a1a' } });

  var G = L.legend;
  graphics.push(
    { type: 'text', left: G.x, top: G.mr - G.mrSize * 0.6,
      style: { text: 'MR Test', font: G.mrSize + 'px ' + FONT, fill: '#222' } },
    { type: 'rect', shape: { x: G.key[0], y: G.key[1], width: G.key[2], height: G.key[3] },
      style: { fill: '#f0f0f0' } },
    { type: 'line', shape: { x1: G.key[0] + 2, y1: G.key[1] + G.key[3] - 2, x2: G.key[0] + G.key[2] - 2, y2: G.key[1] + 2 },
      style: { stroke: '#c8c8c8', lineWidth: 1 } },
    { type: 'text', left: G.key[0] + G.key[2] + 6, top: G.lab - G.labSize * 0.6,
      style: { text: methodName, font: G.labSize + 'px ' + FONT, fill: '#333' } }
  );
});

// extra axes only for the thin minor grid lines
layout.forEach(function (L, i) {
  xAxes.push({ type: 'value', gridIndex: i, min: xRanges[i][0], max: xRanges[i][1],
    axisLine: { show: false, onZero: false }, axisLabel: { show: false },
    axisTick: { show: false, customValues: xMinorTicks[i] },
    splitLine: { show: true, lineStyle: { color: '#ffffff', width: 0.6 } } });
  yAxes.push({ type: 'value', gridIndex: i, min: yRanges[i][0], max: yRanges[i][1],
    axisLine: { show: false, onZero: false }, axisLabel: { show: false },
    axisTick: { show: false, customValues: yMinorTicks[i] },
    splitLine: { show: true, lineStyle: { color: '#ffffff', width: 0.6 } } });
});

// centre box
graphics.push(
  { type: 'rect', shape: { x: 537, y: 125, width: 276, height: 250 },
    style: { fill: '#fff', stroke: '#333', lineWidth: 1.5 } },
  { type: 'text', x: 675, y: 237,
    style: { text: 'Exposure:\nInsomnia', font: 'bold 29px "Open Sans", sans-serif', fill: '#111',
      align: 'center', verticalAlign: 'middle', lineHeight: 59 } }
);

var chart = echarts.init(document.getElementById('chart'));
chart.setOption({
  animation: false,
  backgroundColor: '#ffffff',
  title: titles,
  grid: grids,
  xAxis: xAxes,
  yAxis: yAxes,
  series: series,
  graphic: graphics
});
</script>
</body>
</html>
